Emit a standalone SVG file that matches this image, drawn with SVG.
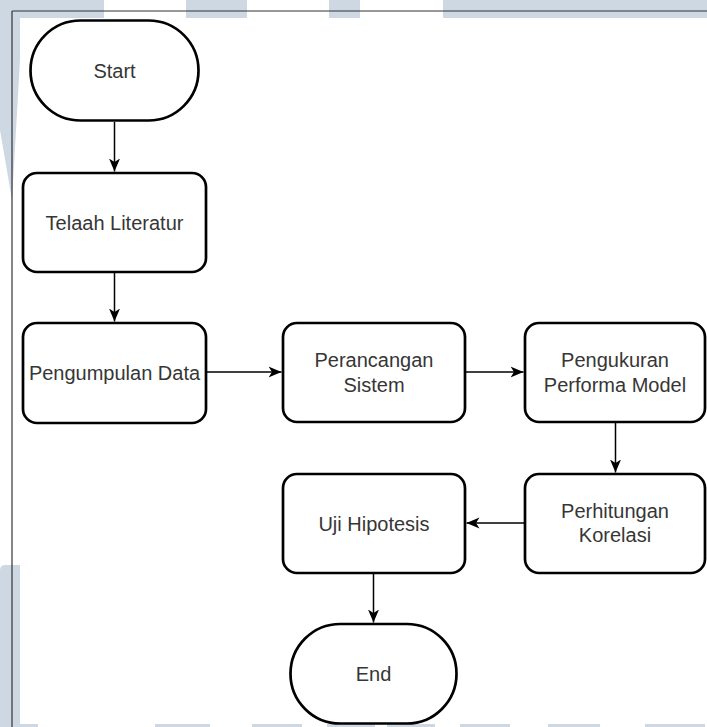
<svg xmlns="http://www.w3.org/2000/svg" width="707" height="727" viewBox="0 0 707 727">
  <style>
    .wm { fill: #cdd8e3; }
    .node { fill: #ffffff; stroke: #000000; stroke-width: 2.7; }
    .lbl { font-family: "Liberation Sans", Arial, sans-serif; font-size: 20px; fill: #363636; text-anchor: middle; }
    .edge { fill: none; stroke: #000000; stroke-width: 1.5; }
    .frame { fill: none; stroke: #333333; stroke-width: 1.2; }
  </style>
  <defs>
    <marker id="arrow" markerUnits="userSpaceOnUse" markerWidth="13" markerHeight="12" viewBox="0 0 13 12" refX="13" refY="6" orient="auto">
      <path d="M0,0.5 L13,6 L0,11.5 L3.5,6 Z" fill="#000000"/>
    </marker>
  </defs>

  <rect x="0" y="0" width="707" height="727" fill="#ffffff"/>
  <g id="watermark">
    <rect class="wm" x="0" y="0" width="104" height="18"/>
    <rect class="wm" x="186" y="0" width="61" height="18"/>
    <rect class="wm" x="329" y="0" width="31" height="18"/>
    <rect class="wm" x="443" y="0" width="264" height="18"/>
    <polygon class="wm" points="0,0 20,0 20,60 12,200 0,130"/>
    <path class="wm" d="M0,570 Q0,565 6,565 L20,565 L20,727 L0,727 Z"/>
    <rect class="wm" x="0" y="724" width="38" height="3"/>
    <rect class="wm" x="155" y="724" width="55" height="3"/>
    <rect class="wm" x="252" y="724" width="50" height="3"/>
    <rect class="wm" x="327" y="724" width="48" height="3"/>
    <rect class="wm" x="387" y="724" width="48" height="3"/>
    <rect class="wm" x="460" y="724" width="50" height="3"/>
    <rect class="wm" x="548" y="724" width="52" height="3"/>
    <rect class="wm" x="645" y="724" width="60" height="3"/>
  </g>
  <rect x="20" y="18" width="687" height="706" fill="#ffffff"/>
  <g id="frame">
    <line class="frame" x1="12" y1="11" x2="707" y2="11"/>
    <line class="frame" x1="12" y1="11" x2="12" y2="727"/>
  </g>

  <g id="connectors">
    <line class="edge" x1="114.5" y1="122" x2="114.5" y2="171.5" marker-end="url(#arrow)"/>
    <line class="edge" x1="114.5" y1="273" x2="114.5" y2="321.5" marker-end="url(#arrow)"/>
    <line class="edge" x1="207" y1="372" x2="281.5" y2="372" marker-end="url(#arrow)"/>
    <line class="edge" x1="466" y1="372" x2="523.5" y2="372" marker-end="url(#arrow)"/>
    <line class="edge" x1="615.5" y1="423" x2="615.5" y2="472.5" marker-end="url(#arrow)"/>
    <line class="edge" x1="524" y1="523" x2="466.5" y2="523" marker-end="url(#arrow)"/>
    <line class="edge" x1="373.5" y1="574" x2="373.5" y2="622.5" marker-end="url(#arrow)"/>
  </g>

  <g id="start">
    <rect class="node" x="30.5" y="20.5" width="168" height="100" rx="50" ry="50"/>
    <text class="lbl" x="114.5" y="77.5">Start</text>
  </g>
  <g id="telaah">
    <rect class="node" x="23" y="173" width="183" height="99" rx="14" ry="14"/>
    <text class="lbl" x="114.5" y="229.5">Telaah Literatur</text>
  </g>
  <g id="pengumpulan">
    <rect class="node" x="23" y="323" width="183" height="100" rx="14" ry="14"/>
    <text class="lbl" x="114.5" y="379.5">Pengumpulan Data</text>
  </g>
  <g id="perancangan">
    <rect class="node" x="283" y="323" width="182" height="99" rx="14" ry="14"/>
    <text class="lbl" x="374" y="367">Perancangan</text>
    <text class="lbl" x="374" y="391.5">Sistem</text>
  </g>
  <g id="pengukuran">
    <rect class="node" x="525" y="323" width="180" height="99" rx="14" ry="14"/>
    <text class="lbl" x="615" y="367">Pengukuran</text>
    <text class="lbl" x="615" y="391.5">Performa Model</text>
  </g>
  <g id="perhitungan">
    <rect class="node" x="525" y="474" width="180" height="99" rx="14" ry="14"/>
    <text class="lbl" x="615" y="517.5">Perhitungan</text>
    <text class="lbl" x="615" y="541.5">Korelasi</text>
  </g>
  <g id="uji">
    <rect class="node" x="283" y="474" width="182" height="99" rx="14" ry="14"/>
    <text class="lbl" x="374" y="530.5">Uji Hipotesis</text>
  </g>
  <g id="end">
    <rect class="node" x="290.5" y="624" width="166" height="99.5" rx="49.75" ry="49.75"/>
    <text class="lbl" x="373.5" y="680.5">End</text>
  </g>
</svg>
